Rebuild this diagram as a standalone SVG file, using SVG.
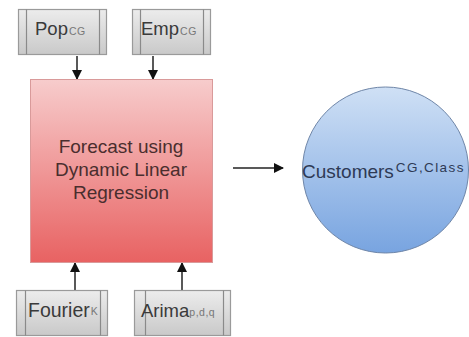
<svg xmlns="http://www.w3.org/2000/svg" width="469" height="337" viewBox="0 0 469 337">
<defs>
<linearGradient id="gGray" x1="0" y1="0" x2="0" y2="1"><stop offset="0" stop-color="#ececec"/><stop offset="1" stop-color="#c9c9c9"/></linearGradient>
<linearGradient id="gRed" x1="0" y1="0" x2="0" y2="1"><stop offset="0" stop-color="#f7cccc"/><stop offset="1" stop-color="#e86262"/></linearGradient>
<linearGradient id="gBlue" x1="0" y1="0" x2="0" y2="1"><stop offset="0" stop-color="#cfe0f5"/><stop offset="1" stop-color="#78a4e0"/></linearGradient>
<marker id="arr" markerWidth="10" markerHeight="10" refX="9" refY="5" orient="auto" markerUnits="userSpaceOnUse"><path d="M0,0 L10,5 L0,10 Z" fill="#111"/></marker>
<style>
.box{fill:url(#gGray);stroke:#9a9a9a;stroke-width:1.2}
.side{stroke:#8a8a8a;stroke-width:1.2}
.lbl{font-family:"Liberation Sans",Arial,sans-serif;font-size:18.5px;fill:#3a3a3a}
.big{font-family:"Liberation Sans",Arial,sans-serif;font-size:19px}
.sub{font-family:"Liberation Sans",Arial,sans-serif;font-size:10.5px;fill:#777;letter-spacing:0.5px}
.conn{stroke:#222;stroke-width:1.5;fill:none;marker-end:url(#arr)}
</style>
</defs>
<g id="connectors">
<line class="conn" x1="77" y1="56" x2="77" y2="79"/>
<line class="conn" x1="153" y1="56" x2="153" y2="79"/>
<line class="conn" x1="75" y1="290" x2="75" y2="263"/>
<line class="conn" x1="182" y1="290" x2="182" y2="263"/>
<line class="conn" x1="233" y1="168" x2="283" y2="168"/>
</g>
<g id="pop">
<rect class="box" x="18.5" y="9.5" width="88" height="45"/>
<line class="side" x1="26.5" y1="9.5" x2="26.5" y2="54.5"/>
<line class="side" x1="99.5" y1="9.5" x2="99.5" y2="54.5"/>
<text class="lbl" x="35" y="35">Pop<tspan class="sub" dx="1">CG</tspan></text>
</g>
<g id="emp">
<rect class="box" x="132.5" y="9.5" width="78" height="45"/>
<line class="side" x1="140.5" y1="9.5" x2="140.5" y2="54.5"/>
<line class="side" x1="203.5" y1="9.5" x2="203.5" y2="54.5"/>
<text class="lbl" x="141" y="35">Emp<tspan class="sub" dx="1">CG</tspan></text>
</g>
<g id="forecast">
<rect x="30.5" y="79.5" width="182" height="183" fill="url(#gRed)" stroke="#d99a9a" stroke-width="1"/>
<text class="big" x="121" y="153" text-anchor="middle" fill="#4a2e2e">Forecast using</text>
<text class="big" x="121" y="176" text-anchor="middle" fill="#4a2e2e">Dynamic Linear</text>
<text class="big" x="121" y="199" text-anchor="middle" fill="#4a2e2e">Regression</text>
</g>
<g id="fourier">
<rect class="box" x="16.5" y="290.5" width="91" height="45"/>
<line class="side" x1="25.5" y1="290.5" x2="25.5" y2="335.5"/>
<text class="lbl" x="28" y="317" style="font-size:19.5px">Fourier<tspan class="sub" dx="1" dy="-2">K</tspan></text>
<line class="side" x1="100.5" y1="290.5" x2="100.5" y2="335.5"/>
</g>
<g id="arima">
<rect class="box" x="134.5" y="290.5" width="96" height="45"/>
<line class="side" x1="145.5" y1="290.5" x2="145.5" y2="335.5"/>
<text class="lbl" x="141" y="317">Arima<tspan class="sub" dy="-1">p,d,q</tspan></text>
<line class="side" x1="223.5" y1="290.5" x2="223.5" y2="335.5"/>
</g>
<g id="customers">
<circle cx="385.5" cy="170" r="83" fill="url(#gBlue)" stroke="#6f86a8" stroke-width="1"/>
<text class="big" x="302" y="178" fill="#2e3a55">Customers<tspan font-size="13.5" letter-spacing="1.4" dx="2" dy="-6">CG,Class</tspan></text>
</g>
</svg>
